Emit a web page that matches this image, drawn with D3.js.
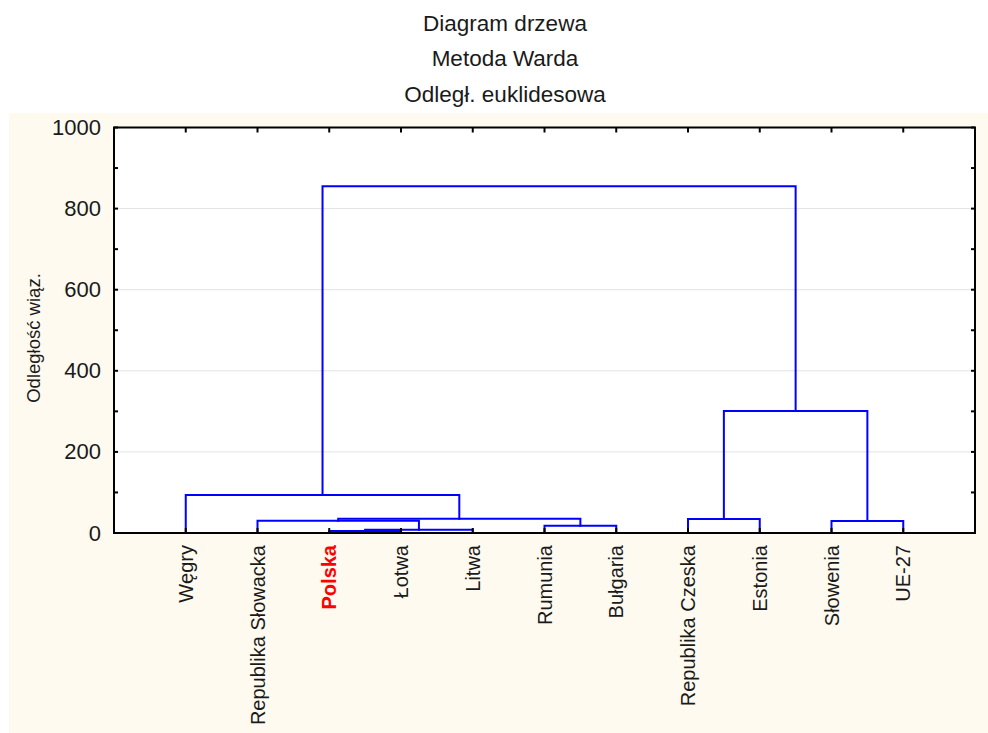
<!DOCTYPE html>
<html>
<head>
<meta charset="utf-8">
<script src="https://cdn.jsdelivr.net/npm/d3@7"></script>
<style>
  html, body { margin: 0; padding: 0; background: #ffffff; }
  svg { display: block; font-family: "Liberation Sans", Arial, sans-serif; }
</style>
</head>
<body>
<svg id="chart" width="988" height="733"></svg>
<script>
// ---- Data ----
const titleLines = ["Diagram drzewa", "Metoda Warda", "Odległ. euklidesowa"];
const yLabel = "Odległość wiąz.";
const leaves = ["Węgry", "Republika Słowacka", "Polska", "Łotwa", "Litwa", "Rumunia",
                "Bułgaria", "Republika Czeska", "Estonia", "Słowenia", "UE-27"];
const highlighted = ["Polska"];
// merges: node ids 0..10 are leaves, merge k creates node 11+k
const mergeLeft   = [2, 11, 5, 9,    1, 7,    15, 0,  16,  18];
const mergeRight  = [3, 4,  6, 10,   12, 8,   13, 17, 14,  19];
const mergeHeight = [5, 8,  18, 29.5, 30, 34.5, 35, 94, 301, 855];
const yTicks = [0, 200, 400, 600, 800, 1000];
const yMinorTicks = [100, 300, 500, 700, 900];

// ---- Layout ----
const svg = d3.select("#chart");
const plot = { left: 114, right: 975, top: 127.5, bottom: 533 };

svg.append("rect").attr("x", 9).attr("y", 113).attr("width", 979).attr("height", 620)
  .attr("fill", "#fffaf0");
svg.append("rect").attr("x", plot.left).attr("y", plot.top)
  .attr("width", plot.right - plot.left).attr("height", plot.bottom - plot.top)
  .attr("fill", "#ffffff");

const x = d3.scaleLinear().domain([0, leaves.length + 1]).range([plot.left, plot.right]);
const y = d3.scaleLinear().domain([0, 1000]).range([plot.bottom, plot.top]);

// build hierarchy
const nodes = leaves.map((name, i) => ({ name, id: i, height: 0 }));
mergeHeight.forEach((h, k) => {
  nodes.push({ id: leaves.length + k, height: h,
               children: [nodes[mergeLeft[k]], nodes[mergeRight[k]]] });
});
const root = d3.hierarchy(nodes[nodes.length - 1]);
root.eachAfter(n => {
  if (!n.children) n.px = x(leaves.indexOf(n.data.name) + 1);
  else n.px = d3.mean(n.children, c => c.px);
});

// gridlines
svg.append("g").selectAll("line").data(yTicks.filter(t => t > 0 && t < 1000)).join("line")
  .attr("x1", plot.left).attr("x2", plot.right)
  .attr("y1", d => y(d)).attr("y2", d => y(d))
  .attr("stroke", "#e3e3e3").attr("stroke-width", 1);

// dendrogram links
const linkG = svg.append("g").attr("fill", "none").attr("stroke", "#0000ff")
  .attr("stroke-width", 2).attr("stroke-linecap", "square");
root.descendants().filter(n => n.children).forEach(n => {
  const [a, b] = n.children;
  const path = d3.path();
  path.moveTo(a.px, y(a.data.height));
  path.lineTo(a.px, y(n.data.height));
  path.lineTo(b.px, y(n.data.height));
  path.lineTo(b.px, y(b.data.height));
  linkG.append("path").attr("d", path.toString());
});

// ticks on frame (inward)
const tickG = svg.append("g").attr("stroke", "#000").attr("stroke-width", 2);
leaves.forEach((l, i) => {
  tickG.append("line").attr("x1", x(i + 1)).attr("x2", x(i + 1))
    .attr("y1", plot.bottom).attr("y2", plot.bottom - 5);
  tickG.append("line").attr("x1", x(i + 1)).attr("x2", x(i + 1))
    .attr("y1", plot.top).attr("y2", plot.top + 5);
});
yTicks.concat(yMinorTicks).forEach(t => {
  tickG.append("line").attr("x1", plot.left).attr("x2", plot.left + 4)
    .attr("y1", y(t)).attr("y2", y(t));
  tickG.append("line").attr("x1", plot.right).attr("x2", plot.right - 4)
    .attr("y1", y(t)).attr("y2", y(t));
});

// frame
svg.append("rect").attr("x", plot.left).attr("y", plot.top)
  .attr("width", plot.right - plot.left).attr("height", plot.bottom - plot.top)
  .attr("fill", "none").attr("stroke", "#000").attr("stroke-width", 2);

// y axis labels
const yAxis = d3.axisLeft(y).tickValues(yTicks).tickFormat(d3.format("d"))
  .tickSize(0).tickPadding(13);
const yg = svg.append("g").attr("transform", `translate(${plot.left},0)`).call(yAxis);
yg.select(".domain").remove();
yg.selectAll("text").attr("font-size", "22px").attr("fill", "#1a1a1a")
  .attr("font-family", "'Liberation Sans', Arial, sans-serif");

// x labels (rotated)
svg.append("g").selectAll("text").data(leaves).join("text")
  .attr("transform", (d, i) => `translate(${x(i + 1)},${545}) rotate(-90)`)
  .attr("text-anchor", "end").attr("dy", "0.36em")
  .attr("font-size", "20px")
  .attr("font-weight", d => highlighted.includes(d) ? "bold" : "normal")
  .attr("fill", d => highlighted.includes(d) ? "#ff0000" : "#1a1a1a")
  .text(d => d);

// y axis title
svg.append("text").attr("transform", `translate(33,${338}) rotate(-90)`)
  .attr("text-anchor", "middle").attr("dy", "0.36em")
  .attr("font-size", "18.5px").attr("fill", "#1a1a1a").text(yLabel);

// titles
svg.append("g").selectAll("text").data(titleLines).join("text")
  .attr("x", 505).attr("y", (d, i) => 31 + i * 35.3)
  .attr("text-anchor", "middle").attr("font-size", "22.5px").attr("fill", "#1a1a1a")
  .text(d => d);
</script>
</body>
</html>
